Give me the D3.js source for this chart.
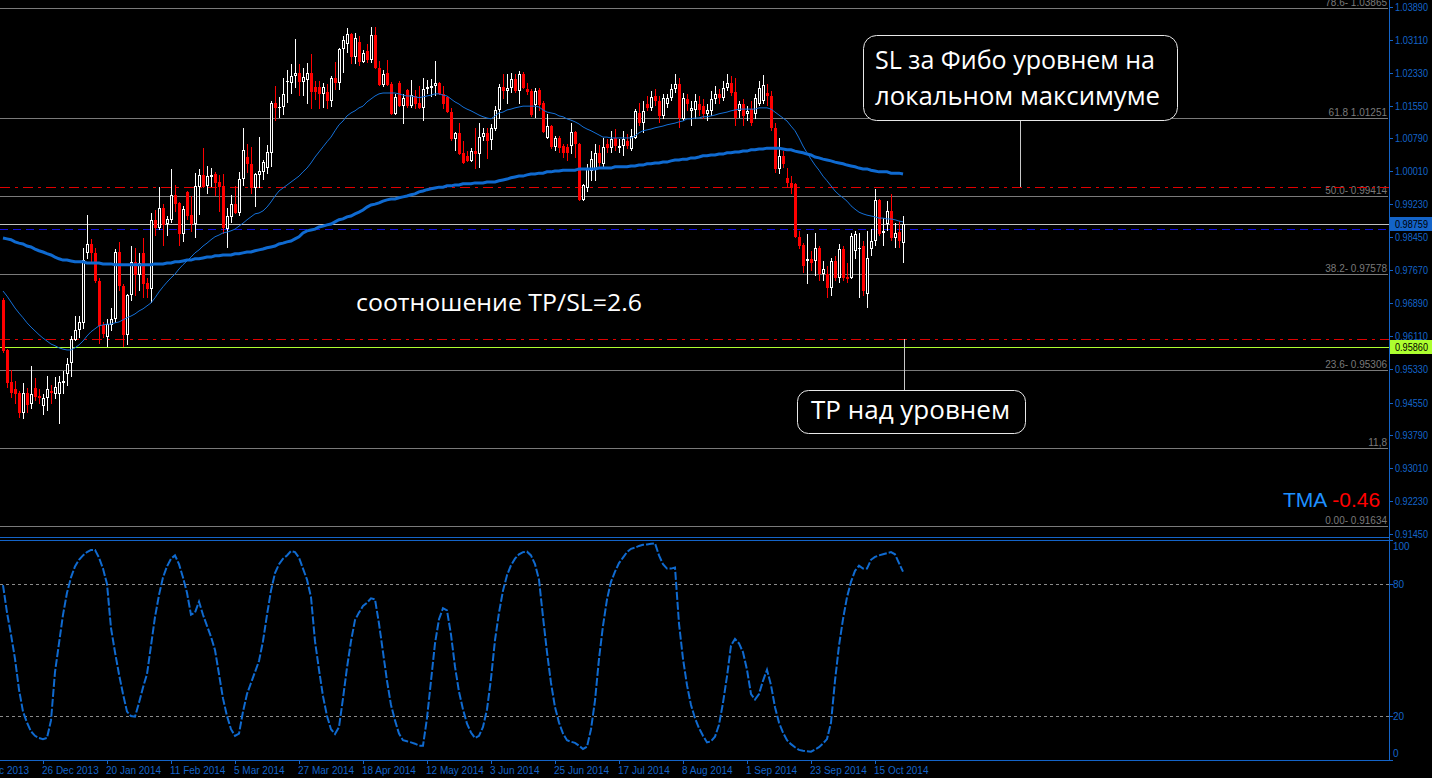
<!DOCTYPE html>
<html><head><meta charset="utf-8">
<script src="https://cdn.jsdelivr.net/npm/d3@7"></script>
<style>html,body{margin:0;padding:0;background:#000;overflow:hidden}</style>
</head><body><svg id="c" width="1432" height="778"></svg>
<script>
// Daily EURCHF-like bars: [open, high, low, close]
const ohlc = [
[0.9697,0.9702,0.9572,0.9577],[0.9579,0.9581,0.9490,0.9501],[0.9504,0.9532,0.9466,0.9478],[0.9487,0.9506,0.9452,0.9475],[0.9478,0.9482,0.9419,0.9431],
[0.9431,0.9501,0.9416,0.9478],[0.9478,0.9490,0.9431,0.9449],[0.9452,0.9541,0.9440,0.9475],[0.9490,0.9513,0.9459,0.9468],[0.9471,0.9487,0.9452,0.9466],
[0.9447,0.9475,0.9426,0.9466],[0.9466,0.9518,0.9435,0.9487],[0.9482,0.9497,0.9452,0.9478],[0.9475,0.9516,0.9464,0.9492],[0.9475,0.9518,0.9405,0.9504],
[0.9501,0.9530,0.9475,0.9506],[0.9523,0.9560,0.9494,0.9546],[0.9548,0.9612,0.9516,0.9605],[0.9602,0.9659,0.9600,0.9626],[0.9626,0.9659,0.9607,0.9645],
[0.9643,0.9820,0.9629,0.9791],[0.9808,0.9897,0.9794,0.9829],[0.9829,0.9841,0.9782,0.9808],[0.9808,0.9820,0.9737,0.9742],[0.9742,0.9749,0.9593,0.9636],
[0.9638,0.9645,0.9607,0.9617],[0.9610,0.9652,0.9586,0.9640],[0.9638,0.9678,0.9624,0.9652],[0.9652,0.9817,0.9643,0.9810],[0.9810,0.9834,0.9718,0.9730],
[0.9730,0.9735,0.9586,0.9615],[0.9615,0.9711,0.9591,0.9709],[0.9709,0.9824,0.9695,0.9787],[0.9787,0.9820,0.9706,0.9756],[0.9756,0.9808,0.9718,0.9784],
[0.9808,0.9843,0.9702,0.9735],[0.9737,0.9749,0.9702,0.9723],[0.9723,0.9902,0.9690,0.9886],[0.9886,0.9909,0.9848,0.9867],[0.9867,0.9963,0.9862,0.9914],
[0.9914,0.9923,0.9824,0.9874],[0.9876,0.9895,0.9848,0.9888],[0.9886,1.0006,0.9878,0.9945],[0.9945,0.9968,0.9904,0.9923],[0.9926,0.9928,0.9824,0.9853],
[0.9853,0.9919,0.9834,0.9911],[0.9952,0.9954,0.9886,0.9895],[0.9897,0.9942,0.9857,0.9876],[0.9876,0.9996,0.9843,0.9966],[0.9963,1.0006,0.9897,0.9992],
[0.9992,1.0055,0.9961,0.9963],[0.9966,1.0013,0.9947,0.9989],[0.9987,1.0008,0.9963,0.9992],[0.9994,0.9999,0.9942,0.9973],[0.9975,0.9992,0.9904,0.9963],
[0.9966,0.9994,0.9853,0.9867],[0.9864,0.9914,0.9820,0.9895],[0.9893,0.9945,0.9878,0.9923],[0.9923,0.9966,0.9900,0.9902],[0.9902,0.9999,0.9895,0.9982],
[0.9982,1.0103,0.9966,1.0051],[1.0034,1.0065,0.9996,1.0018],[1.0018,1.0058,0.9947,0.9961],[0.9961,0.9996,0.9916,0.9994],[0.9992,1.0081,0.9961,1.0001],
[0.9999,1.0027,0.9980,1.0022],[1.0008,1.0063,0.9994,1.0046],[1.0044,1.0166,1.0011,1.0162],[1.0162,1.0202,1.0119,1.0150],[1.0150,1.0176,1.0126,1.0152],
[1.0152,1.0220,1.0133,1.0183],[1.0211,1.0239,1.0162,1.0213],[1.0209,1.0253,1.0183,1.0225],[1.0225,1.0312,1.0197,1.0232],[1.0232,1.0253,1.0178,1.0211],
[1.0211,1.0244,1.0178,1.0223],[1.0216,1.0256,1.0159,1.0232],[1.0232,1.0277,1.0147,1.0187],[1.0199,1.0213,1.0169,1.0187],[1.0199,1.0213,1.0147,1.0183],
[1.0183,1.0209,1.0150,1.0199],[1.0187,1.0206,1.0147,1.0166],[1.0166,1.0225,1.0152,1.0220],[1.0220,1.0258,1.0192,1.0209],[1.0209,1.0291,1.0192,1.0289],
[1.0289,1.0320,1.0232,1.0310],[1.0301,1.0338,1.0279,1.0324],[1.0324,1.0327,1.0253,1.0270],[1.0270,1.0327,1.0253,1.0315],[1.0305,1.0320,1.0249,1.0258],
[1.0258,1.0287,1.0256,1.0279],[1.0284,1.0301,1.0256,1.0263],[1.0263,1.0341,1.0256,1.0322],[1.0322,1.0341,1.0242,1.0244],[1.0244,1.0260,1.0202,1.0204],
[1.0204,1.0240,1.0200,1.0230],[1.0232,1.0263,1.0202,1.0204],[1.0206,1.0211,1.0133,1.0136],[1.0136,1.0183,1.0133,1.0176],[1.0209,1.0213,1.0152,1.0154],
[1.0154,1.0183,1.0112,1.0174],[1.0192,1.0194,1.0150,1.0154],[1.0154,1.0216,1.0150,1.0180],[1.0178,1.0192,1.0147,1.0159],[1.0162,1.0202,1.0147,1.0150],
[1.0150,1.0220,1.0119,1.0194],[1.0194,1.0216,1.0183,1.0199],[1.0197,1.0218,1.0176,1.0202],[1.0202,1.0261,1.0178,1.0209],[1.0209,1.0211,1.0180,1.0183],
[1.0183,1.0202,1.0147,1.0159],[1.0176,1.0178,1.0138,1.0140],[1.0140,1.0150,1.0072,1.0077],[1.0077,1.0093,1.0048,1.0091],[1.0091,1.0114,1.0039,1.0041],
[1.0044,1.0072,1.0018,1.0020],[1.0037,1.0048,1.0022,1.0025],[1.0025,1.0055,1.0022,1.0048],[1.0048,1.0103,1.0006,1.0041],[1.0041,1.0114,1.0008,1.0081],
[1.0081,1.0103,1.0072,1.0091],[1.0091,1.0103,1.0029,1.0072],[1.0074,1.0112,1.0051,1.0103],[1.0100,1.0154,1.0096,1.0145],[1.0145,1.0206,1.0124,1.0199],
[1.0199,1.0230,1.0171,1.0190],[1.0190,1.0230,1.0159,1.0197],[1.0197,1.0232,1.0185,1.0218],[1.0218,1.0230,1.0185,1.0190],[1.0190,1.0237,1.0159,1.0230],
[1.0230,1.0235,1.0194,1.0197],[1.0194,1.0209,1.0180,1.0187],[1.0190,1.0194,1.0129,1.0133],[1.0157,1.0197,1.0126,1.0190],[1.0192,1.0197,1.0143,1.0157],
[1.0162,1.0166,1.0091,1.0093],[1.0079,1.0136,1.0077,1.0107],[1.0107,1.0110,1.0053,1.0058],[1.0058,1.0084,1.0048,1.0079],[1.0079,1.0084,1.0044,1.0055],
[1.0060,1.0065,1.0032,1.0044],[1.0058,1.0065,1.0025,1.0044],[1.0060,1.0114,1.0041,1.0093],[1.0093,1.0096,1.0032,1.0065],[1.0065,1.0067,0.9930,0.9933],
[0.9933,0.9971,0.9930,0.9968],[0.9961,1.0018,0.9952,1.0008],[1.0001,1.0048,0.9978,1.0029],[1.0006,1.0065,0.9978,1.0044],[1.0044,1.0063,1.0008,1.0020],
[1.0018,1.0079,1.0006,1.0058],[1.0065,1.0077,1.0044,1.0055],[1.0055,1.0096,1.0044,1.0077],[1.0079,1.0100,1.0048,1.0060],[1.0055,1.0077,1.0044,1.0060],
[1.0060,1.0096,1.0037,1.0077],[1.0072,1.0089,1.0053,1.0060],[1.0053,1.0100,1.0048,1.0084],[1.0079,1.0147,1.0077,1.0143],[1.0138,1.0162,1.0107,1.0114],
[1.0114,1.0166,1.0091,1.0143],[1.0159,1.0178,1.0143,1.0150],[1.0150,1.0190,1.0143,1.0176],[1.0178,1.0194,1.0154,1.0166],[1.0166,1.0178,1.0114,1.0131],
[1.0131,1.0183,1.0124,1.0174],[1.0159,1.0183,1.0150,1.0174],[1.0174,1.0206,1.0166,1.0194],[1.0194,1.0230,1.0185,1.0206],[1.0206,1.0220,1.0103,1.0126],
[1.0124,1.0185,1.0119,1.0174],[1.0171,1.0183,1.0143,1.0159],[1.0143,1.0166,1.0107,1.0150],[1.0145,1.0183,1.0124,1.0166],[1.0159,1.0178,1.0131,1.0145],
[1.0154,1.0171,1.0124,1.0136],[1.0136,1.0159,1.0119,1.0145],[1.0143,1.0190,1.0131,1.0171],[1.0171,1.0202,1.0159,1.0183],[1.0183,1.0194,1.0159,1.0174],
[1.0174,1.0213,1.0166,1.0197],[1.0197,1.0230,1.0190,1.0209],[1.0209,1.0225,1.0178,1.0185],[1.0187,1.0220,1.0107,1.0126],[1.0143,1.0166,1.0126,1.0159],
[1.0159,1.0171,1.0107,1.0131],[1.0136,1.0154,1.0119,1.0143],[1.0147,1.0166,1.0107,1.0114],[1.0136,1.0183,1.0124,1.0174],[1.0159,1.0213,1.0154,1.0197],
[1.0166,1.0227,1.0159,1.0204],[1.0185,1.0206,1.0154,1.0178],[1.0178,1.0190,1.0096,1.0103],[1.0103,1.0114,0.9996,1.0006],[1.0006,1.0079,0.9994,1.0037],
[1.0037,1.0048,1.0008,1.0018],[0.9985,1.0008,0.9961,0.9973],[0.9973,0.9989,0.9947,0.9961],[0.9971,0.9973,0.9843,0.9846],[0.9846,0.9860,0.9817,0.9824],
[0.9827,0.9831,0.9761,0.9777],[0.9789,0.9853,0.9735,0.9794],[0.9794,0.9813,0.9765,0.9784],[0.9789,0.9855,0.9754,0.9820],[0.9820,0.9824,0.9742,0.9758],
[0.9758,0.9789,0.9742,0.9770],[0.9758,0.9777,0.9702,0.9725],[0.9725,0.9796,0.9706,0.9789],[0.9789,0.9801,0.9742,0.9749],[0.9749,0.9829,0.9737,0.9817],
[0.9817,0.9824,0.9742,0.9749],[0.9751,0.9784,0.9737,0.9746],[0.9749,0.9855,0.9746,0.9848],[0.9813,0.9860,0.9794,0.9853],[0.9817,0.9855,0.9702,0.9820],
[0.9824,0.9836,0.9706,0.9718],[0.9711,0.9860,0.9678,0.9796],[0.9817,0.9864,0.9801,0.9836],[0.9836,0.9959,0.9824,0.9933],[0.9933,0.9935,0.9848,0.9853],
[0.9855,0.9890,0.9824,0.9860],[0.9876,0.9930,0.9860,0.9907],[0.9907,0.9947,0.9836,0.9843],[0.9843,0.9878,0.9820,0.9855],[0.9857,0.9883,0.9820,0.9836],
[0.9831,0.9895,0.9784,0.9876]
];

// fast moving average (thin blue line)
const maFast = [
0.9718,0.9706,0.9692,0.9678,0.9666,0.9655,0.9643,0.9633,0.9624,0.9615,
0.9607,0.9600,0.9593,0.9589,0.9584,0.9581,0.9579,0.9579,0.9584,0.9591,
0.9600,0.9612,0.9622,0.9629,0.9636,0.9638,0.9640,0.9640,0.9643,0.9645,
0.9650,0.9655,0.9659,0.9664,0.9671,0.9676,0.9683,0.9690,0.9702,0.9716,
0.9728,0.9739,0.9749,0.9758,0.9770,0.9780,0.9789,0.9798,0.9808,0.9815,
0.9824,0.9831,0.9839,0.9846,0.9850,0.9855,0.9857,0.9860,0.9864,0.9871,
0.9878,0.9886,0.9893,0.9900,0.9902,0.9907,0.9916,0.9928,0.9942,0.9954,
0.9961,0.9968,0.9975,0.9982,0.9989,0.9999,1.0008,1.0020,1.0034,1.0046,
1.0058,1.0070,1.0081,1.0096,1.0110,1.0119,1.0131,1.0138,1.0143,1.0150,
1.0154,1.0164,1.0171,1.0178,1.0183,1.0185,1.0185,1.0185,1.0185,1.0183,
1.0180,1.0178,1.0178,1.0176,1.0174,1.0176,1.0178,1.0180,1.0183,1.0183,
1.0180,1.0178,1.0171,1.0164,1.0159,1.0152,1.0147,1.0143,1.0138,1.0133,
1.0129,1.0126,1.0124,1.0131,1.0138,1.0140,1.0145,1.0147,1.0150,1.0152,
1.0154,1.0154,1.0154,1.0154,1.0152,1.0145,1.0140,1.0138,1.0136,1.0131,
1.0129,1.0124,1.0121,1.0117,1.0112,1.0105,1.0100,1.0096,1.0091,1.0086,
1.0081,1.0081,1.0079,1.0079,1.0079,1.0079,1.0079,1.0079,1.0084,1.0091,
1.0096,1.0098,1.0100,1.0103,1.0105,1.0107,1.0110,1.0112,1.0114,1.0117,
1.0119,1.0124,1.0124,1.0126,1.0126,1.0129,1.0129,1.0131,1.0133,1.0136,
1.0138,1.0140,1.0143,1.0145,1.0147,1.0147,1.0147,1.0147,1.0147,1.0150,
1.0150,1.0150,1.0147,1.0140,1.0133,1.0126,1.0119,1.0107,1.0096,1.0079,
1.0060,1.0044,1.0029,1.0015,1.0003,0.9989,0.9978,0.9966,0.9954,0.9945,
0.9938,0.9930,0.9919,0.9911,0.9904,0.9900,0.9897,0.9895,0.9893,0.9890,
0.9890,0.9888,0.9888,0.9886,0.9883,0.9881
];

// slow moving average (thick blue line)
const maSlow = [
0.9843,0.9841,0.9839,0.9834,0.9831,0.9829,0.9824,0.9822,0.9817,0.9813,
0.9810,0.9806,0.9803,0.9798,0.9794,0.9791,0.9791,0.9789,0.9787,0.9787,
0.9787,0.9784,0.9784,0.9784,0.9784,0.9782,0.9782,0.9782,0.9780,0.9780,
0.9780,0.9780,0.9780,0.9780,0.9780,0.9780,0.9780,0.9780,0.9782,0.9782,
0.9782,0.9784,0.9784,0.9787,0.9787,0.9789,0.9791,0.9791,0.9794,0.9794,
0.9796,0.9798,0.9798,0.9801,0.9801,0.9803,0.9803,0.9803,0.9806,0.9806,
0.9808,0.9810,0.9810,0.9813,0.9815,0.9817,0.9820,0.9822,0.9824,0.9829,
0.9831,0.9834,0.9836,0.9841,0.9846,0.9855,0.9860,0.9862,0.9864,0.9869,
0.9871,0.9874,0.9876,0.9881,0.9886,0.9888,0.9893,0.9895,0.9900,0.9904,
0.9909,0.9916,0.9921,0.9923,0.9926,0.9930,0.9933,0.9935,0.9935,0.9938,
0.9940,0.9942,0.9945,0.9947,0.9952,0.9954,0.9957,0.9959,0.9961,0.9963,
0.9963,0.9966,0.9966,0.9968,0.9968,0.9971,0.9971,0.9971,0.9973,0.9973,
0.9973,0.9975,0.9975,0.9975,0.9978,0.9980,0.9982,0.9985,0.9987,0.9989,
0.9989,0.9992,0.9994,0.9994,0.9996,0.9996,0.9999,0.9999,1.0001,1.0001,
1.0003,1.0003,1.0003,1.0003,1.0006,1.0006,1.0006,1.0006,1.0006,1.0008,
1.0008,1.0008,1.0008,1.0011,1.0011,1.0011,1.0011,1.0013,1.0013,1.0015,
1.0015,1.0018,1.0018,1.0020,1.0020,1.0022,1.0022,1.0025,1.0027,1.0027,
1.0029,1.0029,1.0032,1.0032,1.0034,1.0037,1.0037,1.0039,1.0039,1.0041,
1.0041,1.0044,1.0044,1.0046,1.0046,1.0048,1.0048,1.0051,1.0051,1.0053,
1.0053,1.0055,1.0055,1.0055,1.0055,1.0053,1.0051,1.0051,1.0048,1.0046,
1.0044,1.0041,1.0039,1.0034,1.0032,1.0029,1.0027,1.0025,1.0022,1.0020,
1.0018,1.0015,1.0013,1.0011,1.0008,1.0006,1.0006,1.0003,1.0001,0.9999,
0.9999,0.9999,0.9996,0.9996,0.9996,0.9994
];

// stochastic oscillator (lower window)
const stoch = [
79.5,67,57,46,32,22,17,13,11,10,
9.5,10,18,40,53,66,76,83,88,91,
93,94.5,95.5,95.5,92,87,80,60,49,39,
30,22,20,19.7,26,33,39,52,65,75,
83,88,91.5,93,89,83,76,66,67,72,
66,61,56,50,39,28,20,14,11,12,
22,30,35,40,45,54,66,77,85,89,
91.5,93,95,94.5,92,87,82,74,54,41,
29,20,14,11.8,15,28,42,54,63.6,67,
70,71.5,73.5,73,62,49,36,25,18,12,
9,8.5,8,7.4,6.5,6.5,19,36,53,64,
69,68,57,42.4,31,23,16.5,12.5,10,11,
15,23,37,54.5,67,77,84,88.5,91.5,93.5,
94.5,94.7,93,89,82,65,49,35,24,17,
12,9,8.3,7.8,6.5,5,6,14,27,46,
61,73,81,85.6,89.5,92,94.5,96,96.5,97.3,
97.8,98,98.3,98.5,93,89,87,87,87.5,62,
46,34,25,19,14.5,11,8,8.5,10.6,16,
26,38,52,55,53,49,41,30,27.5,30,
36,41,34,24,17,12.5,9,7.2,5.8,4.6,
4.2,4,3.8,4.8,5.8,7.5,9.5,17,36,52,
64,74,81,86,88.3,87,87,91,92.3,93,
93.5,94,94.5,93.5,89.5,85.6
];

const priceTicks = [1.03890,1.03110,1.02330,1.01550,1.00790,1.00010,0.99230,0.98450,0.97670,0.96890,0.96110,0.95330,0.94550,0.93790,0.93010,0.92230,0.91450];
const stochTicks = [100,80,20,0];
const stochLevels = [80,20];
const dateTickBars = [-6,10,26,42,58,74,90,106,122,138,154,170,186,202,218];
const dateTickLabels = ["4 Dec 2013","26 Dec 2013","20 Jan 2014","11 Feb 2014","5 Mar 2014","27 Mar 2014","18 Apr 2014","12 May 2014","3 Jun 2014","25 Jun 2014","17 Jul 2014","8 Aug 2014","1 Sep 2014","23 Sep 2014","15 Oct 2014"];
const fibPrices = [1.03865,1.01251,0.99414,0.97578,0.95306,0.93470,0.91634];
const fibLabels = ["78.6- 1.03865","61.8 1.01251","50.0- 0.99414","38.2- 0.97578","23.6- 0.95306","11,8","0.00- 0.91634"];
const redLevels = [0.99633,0.96041];
const blueLevel = 0.98635;
const bidPrice = 0.98759;
const tpPrice = 0.95860;
const tmaLabel = ["TMA", "-0.46"];
const slNote = ["SL за Фибо уровнем на","локальном максимуме"];
const tpNote = ["TP над уровнем"];
const ratioNote = "соотношение TP/SL=2.6";

// ---------- drawing ----------
const W = 1432, H = 778, axisX = 1389;
const svg = d3.select("#c");
svg.append("rect").attr("width", W).attr("height", H).attr("fill", "#000");

const x = d3.scaleLinear().domain([0, ohlc.length - 1]).range([3, 903]);
const y = d3.scaleLinear().domain([0.91450, 1.03890]).range([534, 6.5]);
const ys = d3.scaleLinear().domain([0, 100]).range([760, 540]);

const defs = svg.append("defs");
defs.append("clipPath").attr("id", "cm").append("rect").attr("x", 0).attr("y", 0).attr("width", axisX).attr("height", 537);
defs.append("clipPath").attr("id", "cs").append("rect").attr("x", 0).attr("y", 541).attr("width", axisX).attr("height", 219);

const AX = "#1464c8";
const main = svg.append("g").attr("clip-path", "url(#cm)");
const hy = v => Math.round(y(v)) + 0.5;

// Fibo lines
fibPrices.forEach((p, i) => {
  main.append("line").attr("x1", 0).attr("x2", axisX - 1).attr("y1", hy(p)).attr("y2", hy(p))
    .attr("stroke", "#7a7a7a").attr("stroke-width", 1).attr("shape-rendering", "crispEdges");
  main.append("text").attr("x", axisX - 2).attr("y", Math.round(y(p)) - 2).attr("text-anchor", "end")
    .attr("font-family", "Liberation Sans, Arial, sans-serif").attr("font-size", 10).attr("fill", "#7a7a7a").text(fibLabels[i]);
});
// red dash-dot levels
redLevels.forEach(p => {
  main.append("line").attr("x1", 0).attr("x2", axisX).attr("y1", hy(p)).attr("y2", hy(p))
    .attr("stroke", "#e00000").attr("stroke-dasharray", "10,5,3,5").attr("shape-rendering", "crispEdges");
});
// blue dashed level
main.append("line").attr("x1", 0).attr("x2", axisX).attr("y1", hy(blueLevel)).attr("y2", hy(blueLevel))
  .attr("stroke", "#1010e0").attr("stroke-dasharray", "8,5").attr("shape-rendering", "crispEdges");
// bid line
main.append("line").attr("x1", 0).attr("x2", axisX).attr("y1", hy(bidPrice)).attr("y2", hy(bidPrice))
  .attr("stroke", "#c0c0c0").attr("shape-rendering", "crispEdges");
// TP line
main.append("line").attr("x1", 0).attr("x2", axisX).attr("y1", hy(tpPrice)).attr("y2", hy(tpPrice))
  .attr("stroke", "#adff2f").attr("shape-rendering", "crispEdges");

// candles
const cg = main.append("g").attr("shape-rendering", "crispEdges");
ohlc.forEach((d, i) => {
  const [o, h, l, c] = d;
  const cx = Math.round(x(i));
  const up = c >= o;
  const col = up ? "#ffffff" : "#ff0000";
  const yh = Math.round(y(h)), yl = Math.round(y(l));
  cg.append("rect").attr("x", cx).attr("y", yh).attr("width", 1).attr("height", Math.max(1, yl - yh)).attr("fill", col);
  const yt = Math.round(y(Math.max(o, c))), yb = Math.round(y(Math.min(o, c)));
  const bh = Math.max(1, yb - yt);
  cg.append("rect").attr("x", cx - 1).attr("y", yt).attr("width", 3).attr("height", bh).attr("fill", col);
  if (up && bh > 2) cg.append("rect").attr("x", cx).attr("y", yt + 1).attr("width", 1).attr("height", bh - 2).attr("fill", "#000");
});

// moving averages
const line = d3.line().x((d, i) => x(i)).y(d => y(d));
main.append("path").attr("d", line(maSlow)).attr("fill", "none").attr("stroke", "#0f6ad0").attr("stroke-width", 3);
main.append("path").attr("d", line(maFast)).attr("fill", "none").attr("stroke", "#1470d8").attr("stroke-width", 1);

// ---------- annotations ----------
const noteFont = "Open Sans, Noto Sans, DejaVu Sans, sans-serif";
// connectors
svg.append("line").attr("x1", 1020.5).attr("x2", 1020.5).attr("y1", 121).attr("y2", Math.round(y(redLevels[0])))
  .attr("stroke", "#c8c8c8");
svg.append("line").attr("x1", 904.5).attr("x2", 904.5).attr("y1", Math.round(y(redLevels[1]))).attr("y2", 390)
  .attr("stroke", "#c8c8c8");
// SL box
svg.append("rect").attr("x", 863.5).attr("y", 35.5).attr("width", 314).attr("height", 85).attr("rx", 13)
  .attr("fill", "#000").attr("stroke", "#e8e8e8");
svg.append("text").attr("x", 875).attr("y", 69).attr("font-family", noteFont).attr("font-size", 25).attr("fill", "#fff")
  .attr("textLength", 280).attr("lengthAdjust", "spacingAndGlyphs").text(slNote[0]);
svg.append("text").attr("x", 875).attr("y", 105).attr("font-family", noteFont).attr("font-size", 25).attr("fill", "#fff")
  .attr("textLength", 285).attr("lengthAdjust", "spacingAndGlyphs").text(slNote[1]);
// TP box
svg.append("rect").attr("x", 797.5).attr("y", 390.5).attr("width", 228).attr("height", 43).attr("rx", 11)
  .attr("fill", "#000").attr("stroke", "#e8e8e8");
svg.append("text").attr("x", 811).attr("y", 419).attr("font-family", noteFont).attr("font-size", 25).attr("fill", "#fff")
  .attr("textLength", 199).attr("lengthAdjust", "spacingAndGlyphs").text(tpNote[0]);
// ratio text
svg.append("text").attr("x", 356).attr("y", 311).attr("font-family", noteFont).attr("font-size", 24).attr("fill", "#fff")
  .attr("textLength", 286).attr("lengthAdjust", "spacingAndGlyphs").text(ratioNote);
// TMA
const tma = svg.append("text").attr("x", 1283).attr("y", 507).attr("font-family", "Liberation Sans, Arial, sans-serif").attr("font-size", 21);
tma.append("tspan").attr("fill", "#1e90ff").text(tmaLabel[0]);
tma.append("tspan").attr("fill", "#ff0000").attr("dx", 5).text(tmaLabel[1]);

// ---------- sub window ----------
const sub = svg.append("g").attr("clip-path", "url(#cs)");
stochLevels.forEach(v => {
  sub.append("line").attr("x1", 0).attr("x2", axisX).attr("y1", Math.round(ys(v)) + 0.5).attr("y2", Math.round(ys(v)) + 0.5)
    .attr("stroke", "#8a8a8a").attr("stroke-dasharray", "3,3").attr("shape-rendering", "crispEdges");
});
const sline = d3.line().x((d, i) => x(i)).y(d => ys(d));
sub.append("path").attr("d", sline(stoch)).attr("fill", "none").attr("stroke", "#0f6ad0").attr("stroke-width", 2)
  .attr("stroke-dasharray", "8,2");

// ---------- axes / frames ----------
const fr = svg.append("g").attr("shape-rendering", "crispEdges");
fr.append("line").attr("x1", axisX + 0.5).attr("x2", axisX + 0.5).attr("y1", 0).attr("y2", 760).attr("stroke", AX);
fr.append("line").attr("x1", 0).attr("x2", axisX).attr("y1", 537.5).attr("y2", 537.5).attr("stroke", AX);
fr.append("line").attr("x1", 0).attr("x2", axisX).attr("y1", 540.5).attr("y2", 540.5).attr("stroke", AX);
fr.append("line").attr("x1", 0).attr("x2", axisX + 1).attr("y1", 760.5).attr("y2", 760.5).attr("stroke", AX);

const axFont = "Liberation Sans, Arial, sans-serif";
priceTicks.forEach(p => {
  const yy = Math.round(y(p));
  fr.append("line").attr("x1", axisX).attr("x2", axisX + 4).attr("y1", yy + 0.5).attr("y2", yy + 0.5).attr("stroke", AX);
  svg.append("text").attr("x", 1395).attr("y", yy + 4).attr("font-family", axFont).attr("font-size", 10)
    .attr("fill", AX).attr("textLength", 33).attr("lengthAdjust", "spacingAndGlyphs").text(p.toFixed(5));
});
// bid / TP price boxes
[[bidPrice, "#1464c8"], [tpPrice, "#adff2f"]].forEach(([p, col]) => {
  const yy = Math.round(y(p));
  svg.append("rect").attr("x", 1390).attr("y", yy - 7).attr("width", 42).attr("height", 14).attr("fill", col);
  svg.append("text").attr("x", 1395).attr("y", yy + 4).attr("font-family", axFont).attr("font-size", 10)
    .attr("fill", "#000").attr("textLength", 33).attr("lengthAdjust", "spacingAndGlyphs").text(p.toFixed(5));
});
stochTicks.forEach(v => {
  const yy = Math.round(ys(v));
  fr.append("line").attr("x1", axisX).attr("x2", axisX + 4).attr("y1", yy + 0.5).attr("y2", yy + 0.5).attr("stroke", AX);
  const ly = Math.min(Math.max(yy, 546), 753);
  svg.append("text").attr("x", 1393).attr("y", ly + 4).attr("font-family", axFont).attr("font-size", 10)
    .attr("fill", AX).text(v);
});
dateTickBars.forEach((b, i) => {
  const xx = Math.round(x(b));
  fr.append("line").attr("x1", xx + 0.5).attr("x2", xx + 0.5).attr("y1", 760).attr("y2", 764).attr("stroke", AX);
  svg.append("text").attr("x", xx - 1).attr("y", 774).attr("font-family", axFont).attr("font-size", 10)
    .attr("fill", AX).text(dateTickLabels[i]);
});
</script></body></html>
